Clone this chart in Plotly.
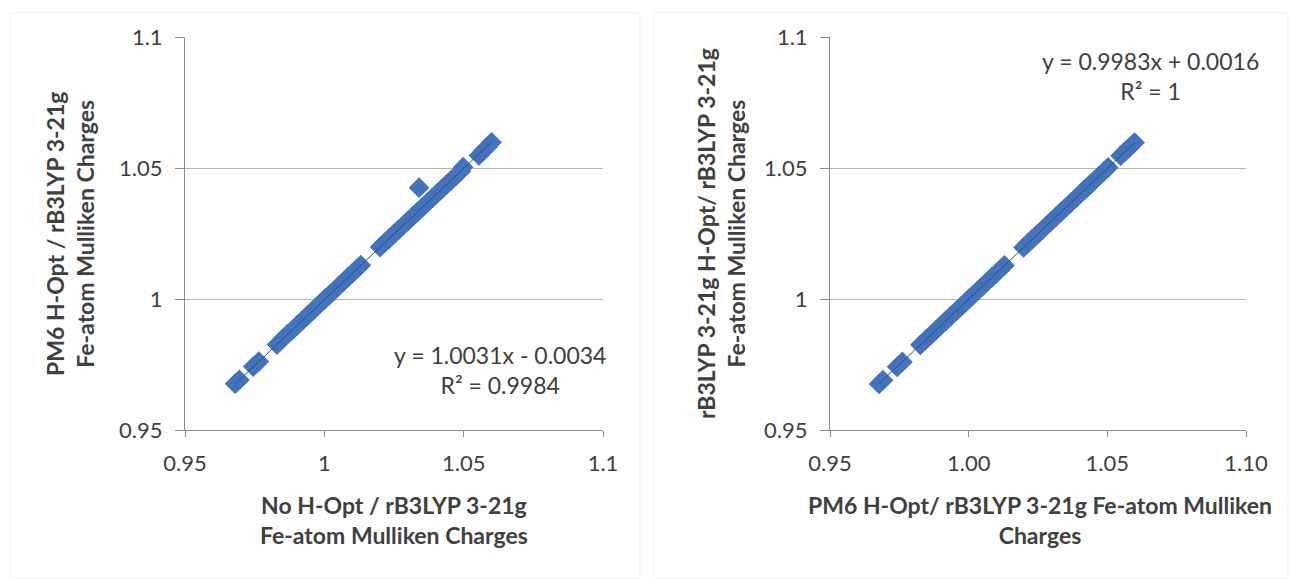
import plotly.graph_objects as go

# Fe-atom Mulliken charges for the same set of structures under three treatments
no_hopt = [0.9680, 0.9695, 0.9745, 0.9765, 0.9830, 0.9850, 0.9868, 0.9885, 0.9902,
           0.9921, 0.9940, 0.9958, 0.9975, 0.9990, 1.0004, 1.0018, 1.0035, 1.0052,
           1.0068, 1.0085, 1.0101, 1.0118, 1.0131, 1.0200, 1.0216, 1.0232, 1.0250,
           1.0266, 1.0283, 1.0300, 1.0318, 1.0335, 1.0340, 1.0352, 1.0370, 1.0388,
           1.0405, 1.0421, 1.0439, 1.0456, 1.0473, 1.0490, 1.0498, 1.0555, 1.0570,
           1.0585, 1.0600]
pm6_hopt = [0.9677, 0.9691, 0.9742, 0.9761, 0.9826, 0.9847, 0.9866, 0.9881, 0.9899,
            0.9918, 0.9937, 0.9955, 0.9973, 0.9988, 1.0002, 1.0015, 1.0032, 1.0050,
            1.0066, 1.0083, 1.0099, 1.0116, 1.0129, 1.0198, 1.0214, 1.0230, 1.0248,
            1.0264, 1.0281, 1.0298, 1.0316, 1.0333, 1.0425, 1.0350, 1.0368, 1.0386,
            1.0403, 1.0419, 1.0437, 1.0454, 1.0471, 1.0488, 1.0503, 1.0548, 1.0565,
            1.0580, 1.0598]
b3lyp_hopt = [0.9676, 0.9690, 0.9741, 0.9760, 0.9825, 0.9846, 0.9865, 0.9880, 0.9898,
              0.9917, 0.9936, 0.9954, 0.9972, 0.9987, 1.0001, 1.0014, 1.0031, 1.0049,
              1.0065, 1.0082, 1.0098, 1.0115, 1.0128, 1.0197, 1.0213, 1.0229, 1.0247,
              1.0263, 1.0280, 1.0297, 1.0315, 1.0332, 1.0423, 1.0349, 1.0367, 1.0385,
              1.0402, 1.0418, 1.0436, 1.0453, 1.0470, 1.0487, 1.0502, 1.0547, 1.0564,
              1.0579, 1.0597]

# Linear trendline coefficients (slope, intercept) and R²
fit_left = (1.0031, -0.0034, 0.9984)
fit_right = (0.9983, 0.0016, 1)

axis_ticks = [0.95, 1.0, 1.05, 1.1]
y_ticklabels = ["0.95", "1", "1.05", "1.1"]
x_ticklabels_left = ["0.95", "1", "1.05", "1.1"]
x_ticklabels_right = ["0.95", "1.00", "1.05", "1.10"]

FONT = "Lato"
MARKER = "#4473BB"
TREND = "#2A4E86"
TEXT = "#404040"

fig = go.Figure()


def add_panel(xs, ys, fit, xa, ya):
    slope, icpt, _ = fit
    fig.add_trace(go.Scatter(
        x=xs, y=ys, mode="markers", xaxis=xa, yaxis=ya,
        marker=dict(symbol="diamond", size=16, color=MARKER, line=dict(width=0)),
        showlegend=False, hoverinfo="x+y"))
    x0, x1 = min(xs), max(xs)
    fig.add_trace(go.Scatter(
        x=[x0, x1], y=[slope * x0 + icpt, slope * x1 + icpt], mode="lines",
        xaxis=xa, yaxis=ya, line=dict(color=TREND, width=1),
        showlegend=False, hoverinfo="skip"))


add_panel(no_hopt, pm6_hopt, fit_left, "x", "y")
add_panel(pm6_hopt, b3lyp_hopt, fit_right, "x2", "y2")

y_dom = [1 - 430 / 581, 1 - 37 / 581]
tick_font = dict(family=FONT, size=22, color=TEXT)
common_x = dict(range=[0.95, 1.1], tickvals=axis_ticks, showgrid=False, zeroline=False,
                showline=True, linecolor="#8C8C8C", linewidth=1, automargin=False,
                ticks="outside", ticklen=6, tickcolor="#8C8C8C",
                tickfont=tick_font, ticklabelstandoff=8)
common_y = dict(range=[0.95, 1.1], tickvals=axis_ticks, ticktext=y_ticklabels,
                showgrid=True, gridcolor="#B4B4B4", gridwidth=1, zeroline=False,
                showline=True, linecolor="#8C8C8C", linewidth=1, automargin=False,
                ticks="outside", ticklen=9, tickcolor="#8C8C8C",
                tickfont=tick_font, ticklabelstandoff=8,
                domain=y_dom)

fig.update_layout(
    width=1290, height=581, margin=dict(l=0, r=0, t=0, b=0, autoexpand=False),
    paper_bgcolor="white", plot_bgcolor="white",
    xaxis=dict(common_x, domain=[185 / 1290, 603 / 1290], ticktext=x_ticklabels_left, anchor="y"),
    yaxis=dict(common_y, anchor="x"),
    xaxis2=dict(common_x, domain=[830 / 1290, 1246 / 1290], ticktext=x_ticklabels_right, anchor="y2"),
    yaxis2=dict(common_y, anchor="x2"),
)

title_font = dict(family=FONT, size=23, color=TEXT)
eq_font = dict(family=FONT, size=23, color=TEXT)


def fit_text(fit):
    slope, icpt, r2 = fit
    sign = "+" if icpt >= 0 else "-"
    return f"y = {slope:.4f}x {sign} {abs(icpt):.4f}<br>R² = {r2:g}"


def paper_note(text, px, py, font, angle=0):
    return dict(text=text, x=px / 1290, y=1 - py / 581, xref="paper", yref="paper",
                xanchor="center", yanchor="middle", textangle=angle,
                showarrow=False, font=font, align="center")


annotations = [
    paper_note("<b>No H-Opt / rB3LYP 3-21g<br>Fe-atom Mulliken Charges</b>", 394, 520, title_font),
    paper_note("<b>PM6 H-Opt / rB3LYP 3-21g<br>Fe-atom Mulliken Charges</b>", 70, 234, title_font, -90),
    paper_note("<b>PM6 H-Opt/ rB3LYP 3-21g Fe-atom Mulliken<br>Charges</b>", 1040, 520, title_font),
    paper_note("<b>rB3LYP 3-21g H-Opt/ rB3LYP 3-21g<br>Fe-atom Mulliken Charges</b>", 721, 234, title_font, -90),
    paper_note(fit_text(fit_left), 500, 370, eq_font),
    paper_note(fit_text(fit_right), 1150, 76, eq_font),
]
fig.update_layout(annotations=annotations)

# faint chart-area borders
for x0, x1 in [(10, 640), (654, 1288)]:
    fig.add_shape(type="rect", xref="paper", yref="paper",
                  x0=x0 / 1290, x1=x1 / 1290, y0=1 - 578 / 581, y1=1 - 13 / 581,
                  line=dict(color="#F2F2F2", width=1), fillcolor="rgba(0,0,0,0)", layer="below")

fig.write_html("out.html")
